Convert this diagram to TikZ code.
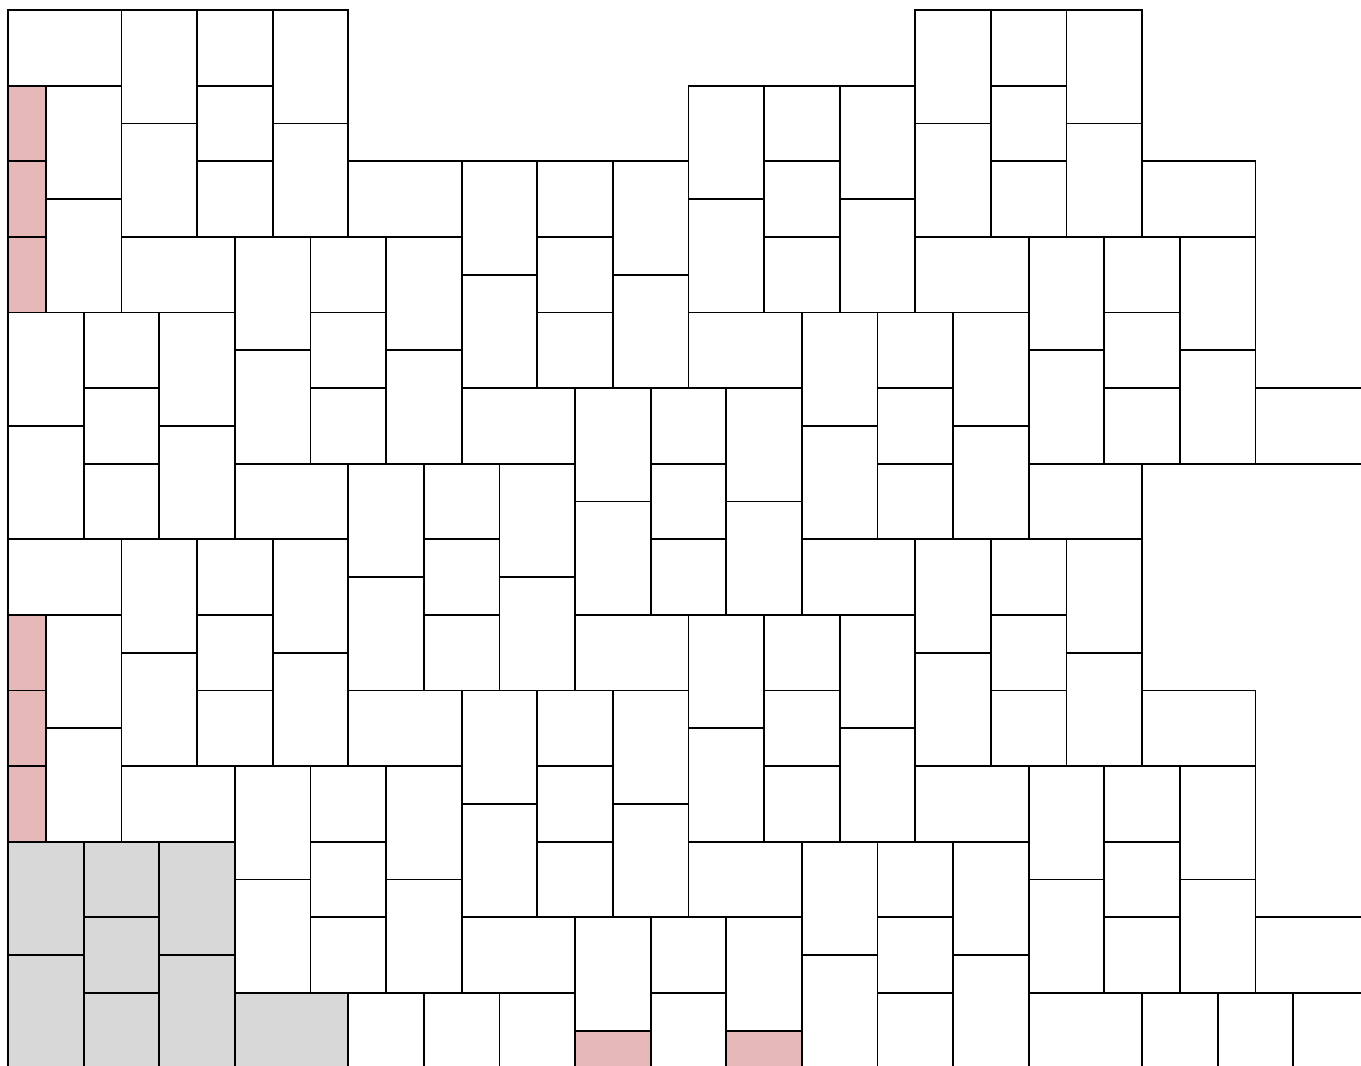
\documentclass[tikz,border=0pt]{standalone}
\definecolor{pinkfill}{HTML}{E6B8B7}
\definecolor{grayfill}{HTML}{D8D8D8}
\tikzset{
  tile/.style={draw=black, line width=1.8pt, fill=white},
  pinktile/.style={tile, fill=pinkfill},
  graytile/.style={tile, fill=grayfill}
}
\newcommand{\hu}{37.8}
\begin{document}
\begin{tikzpicture}[x=1pt,y=-1pt]
\useasboundingbox (0,0) rectangle (1361,1066);
\clip (0,0) rectangle (1361,1066);
\foreach \a/\b/\c/\d in {
0/0/3/2, 3/0/5/3, 5/0/7/2, 7/0/9/3, 24/0/26/3, 26/0/28/2, 28/0/30/3,
1/2/3/5, 1/5/3/8, 5/2/7/4, 3/3/5/6, 5/4/7/6, 7/3/9/6, 9/4/12/6, 12/4/14/7, 14/4/16/6, 16/4/18/7, 18/2/20/5, 20/2/22/4, 22/2/24/5, 24/3/26/6, 26/2/28/4, 28/3/30/6, 26/4/28/6, 30/4/33/6, 18/5/20/8, 20/4/22/6, 22/5/24/8, 20/6/22/8,
3/6/6/8, 6/6/8/9, 8/6/10/8, 10/6/12/9, 12/7/14/10, 14/6/16/8, 16/7/18/10, 14/8/16/10, 24/6/27/8, 27/6/29/9, 29/6/31/8, 31/6/33/9,
0/8/2/11, 2/8/4/10, 4/8/6/11, 6/9/8/12, 8/8/10/10, 8/10/10/12, 10/9/12/12, 18/8/21/10, 21/8/23/11, 23/8/25/10, 25/8/27/11, 27/9/29/12, 29/8/31/10, 31/9/33/12, 29/10/31/12, 33/10/36/12,
2/10/4/12, 0/11/2/14, 4/11/6/14, 2/12/4/14, 12/10/15/12, 15/10/17/13, 17/10/19/12, 19/10/21/13, 21/11/23/14, 23/10/25/12, 25/11/27/14, 23/12/25/14, 27/12/30/14,
6/12/9/14, 9/12/11/15, 11/12/13/14, 13/12/15/15, 15/13/17/16, 17/12/19/14, 19/13/21/16, 17/14/19/16,
0/14/3/16, 3/14/5/17, 5/14/7/16, 7/14/9/17, 9/15/11/18, 11/14/13/16, 13/15/15/18, 11/16/13/18, 21/14/24/16, 24/14/26/17, 26/14/28/16, 28/14/30/17,
1/16/3/19, 1/19/3/22, 3/17/5/20, 5/16/7/18, 5/18/7/20, 7/17/9/20, 15/16/18/18, 18/16/20/19, 20/16/22/18, 22/16/24/19, 24/17/26/20, 26/16/28/18, 28/17/30/20, 26/18/28/20, 30/18/33/20, 9/18/12/20, 12/18/14/21, 14/18/16/20, 16/18/18/21, 18/19/20/22, 20/18/22/20, 22/19/24/22, 20/20/22/22,
3/20/6/22, 6/20/8/23, 8/20/10/22, 10/20/12/23, 12/21/14/24, 14/20/16/22, 16/21/18/24, 14/22/16/24, 24/20/27/22, 27/20/29/23, 29/20/31/22, 31/20/33/23,
6/23/8/26, 8/22/10/24, 8/24/10/26, 10/23/12/26, 18/22/21/24, 21/22/23/25, 23/22/25/24, 25/22/27/25, 27/23/29/26, 29/22/31/24, 31/23/33/26, 29/24/31/26, 33/24/36/26,
12/24/15/26, 15/24/17/27, 17/24/19/26, 19/24/21/27, 21/25/23/28, 23/24/25/26, 25/25/27/28, 23/26/25/28, 27/26/30/28,
9/26/11/28, 11/26/13/28, 13/26/15/28, 17/26/19/28, 30/26/32/28, 32/26/34/28, 34/26/36/28}
  \draw[tile] ({8+\hu*\a},{10+\hu*\b}) rectangle ({8+\hu*\c},{10+\hu*\d});
\foreach \a/\b/\c/\d in {0/2/1/4, 0/4/1/6, 0/6/1/8, 0/16/1/18, 0/18/1/20, 0/20/1/22, 15/27/17/28, 19/27/21/28}
  \draw[pinktile] ({8+\hu*\a},{10+\hu*\b}) rectangle ({8+\hu*\c},{10+\hu*\d});
\foreach \a/\b/\c/\d in {0/22/2/25, 2/22/4/24, 4/22/6/25, 2/24/4/26, 0/25/2/28, 4/25/6/28, 2/26/4/28, 6/26/9/28}
  \draw[graytile] ({8+\hu*\a},{10+\hu*\b}) rectangle ({8+\hu*\c},{10+\hu*\d});
\end{tikzpicture}
\end{document}
